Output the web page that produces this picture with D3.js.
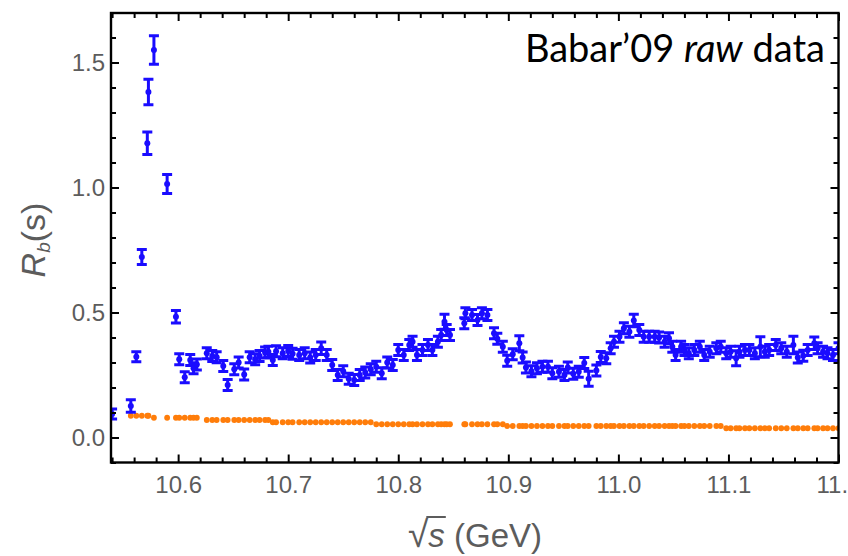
<!DOCTYPE html>
<html>
<head>
<meta charset="utf-8">
<script src="https://cdn.jsdelivr.net/npm/d3@7"></script>
<style>
  html, body { margin: 0; padding: 0; background: #fff; }
  svg { display: block; }
</style>
</head>
<body>
<svg id="chart" width="848" height="556"></svg>
<script>
// Scan energies sqrt(s) in GeV
const energies = [
  10.540,10.557,10.562,10.567,10.572,10.573,10.578,10.590,10.598,10.601,10.606,10.611,10.614,10.617,10.626,10.631,
  10.635,10.641,10.645,10.651,10.655,10.660,10.665,10.670,10.674,10.679,10.682,10.686,10.689,10.695,10.700,10.704,
  10.710,10.715,10.720,10.725,10.730,10.735,10.740,10.745,10.750,10.755,10.760,10.765,10.770,10.775,10.780,10.785,
  10.790,10.795,10.800,10.805,10.810,10.813,10.817,10.822,10.827,10.831,10.836,10.839,10.842,10.844,10.847,
  10.860,10.861,10.867,10.872,10.876,10.881,10.887,10.890,10.895,10.899,10.904,10.910,10.913,10.916,10.921,10.926,
  10.931,10.936,10.940,10.946,10.951,10.954,10.959,10.964,10.969,10.973,10.980,10.984,10.989,10.993,10.996,
  11.001,11.005,11.010,11.014,11.019,11.023,11.028,11.033,11.037,11.042,11.046,11.049,11.052,11.057,11.060,11.064,
  11.069,11.074,11.078,11.083,11.089,11.093,11.098,11.102,11.107,11.110,11.115,11.119,11.124,11.129,11.133,11.137,
  11.143,11.148,11.153,11.159,11.163,11.168,11.172,11.178,11.181,11.186,11.190,11.195,11.200
];

// Measured R_b values
const rbValues = [
  0.094,0.126,0.323,0.722,1.177,1.382,1.550,1.014,0.483,0.313,0.241,0.310,0.277,0.292,0.337,0.326,
  0.321,0.286,0.210,0.273,0.300,0.252,0.321,0.313,0.326,0.340,0.343,0.310,0.345,0.337,0.346,0.335,
  0.330,0.337,0.320,0.330,0.357,0.330,0.290,0.250,0.265,0.235,0.230,0.250,0.260,0.273,0.283,0.257,
  0.300,0.290,0.350,0.330,0.370,0.383,0.330,0.350,0.370,0.350,0.383,0.410,0.463,0.430,0.410,
  0.457,0.497,0.490,0.470,0.497,0.490,0.417,0.395,0.363,0.307,0.333,0.377,0.320,0.280,0.265,0.277,
  0.283,0.283,0.257,0.263,0.250,0.280,0.255,0.263,0.298,0.235,0.268,0.322,0.317,0.357,0.383,
  0.403,0.437,0.423,0.468,0.430,0.403,0.403,0.403,0.400,0.383,0.397,0.363,0.330,0.363,0.350,0.337,
  0.350,0.363,0.330,0.343,0.357,0.363,0.337,0.343,0.317,0.343,0.350,0.350,0.337,0.363,0.343,0.350,
  0.370,0.357,0.343,0.370,0.320,0.327,0.350,0.377,0.357,0.343,0.337,0.330,0.357
];

// Statistical uncertainties on R_b
const rbErrors = [
  0.020,0.025,0.020,0.030,0.045,0.051,0.057,0.038,0.025,0.022,0.022,0.022,0.022,0.022,0.022,0.022,
  0.022,0.022,0.022,0.022,0.022,0.022,0.022,0.022,0.022,0.022,0.022,0.022,0.022,0.022,0.022,0.022,
  0.022,0.022,0.022,0.022,0.025,0.022,0.022,0.022,0.022,0.022,0.022,0.022,0.022,0.022,0.022,0.022,
  0.022,0.022,0.022,0.022,0.022,0.022,0.022,0.022,0.022,0.022,0.022,0.022,0.030,0.022,0.022,
  0.022,0.022,0.022,0.022,0.022,0.022,0.022,0.022,0.022,0.022,0.022,0.030,0.022,0.022,0.022,0.022,
  0.022,0.022,0.022,0.022,0.022,0.022,0.022,0.022,0.022,0.030,0.022,0.022,0.022,0.022,0.022,
  0.022,0.022,0.022,0.025,0.022,0.022,0.022,0.022,0.022,0.022,0.022,0.022,0.022,0.022,0.022,0.022,
  0.022,0.022,0.022,0.022,0.022,0.022,0.022,0.022,0.030,0.022,0.022,0.022,0.022,0.040,0.022,0.022,
  0.022,0.022,0.022,0.035,0.022,0.022,0.022,0.025,0.022,0.022,0.022,0.022,0.022
];

// Lower reference curve at the same energies (null = not drawn)
const rbLower = [
  null,0.087,0.087,0.087,0.087,0.087,0.079,0.079,0.079,0.079,0.079,0.079,0.079,0.079,0.070,0.070,
  0.070,0.070,0.070,0.070,0.070,0.070,0.070,0.070,0.070,0.070,0.070,0.061,0.061,0.061,0.061,0.061,
  0.061,0.061,0.061,0.061,0.061,0.061,0.061,0.061,0.061,0.061,0.061,0.061,0.061,0.061,0.053,0.053,
  0.053,0.053,0.053,0.053,0.053,0.053,0.053,0.053,0.053,0.053,0.053,0.053,0.053,0.053,0.053,
  0.053,0.053,0.053,0.053,0.053,0.053,0.053,0.053,0.053,0.046,0.046,0.046,0.046,0.046,0.046,0.046,
  0.046,0.046,0.046,0.046,0.046,0.046,0.046,0.046,0.046,0.046,0.046,0.046,0.046,0.046,0.046,
  0.046,0.046,0.046,0.046,0.046,0.046,0.046,0.046,0.046,0.046,0.046,0.046,0.046,0.046,0.046,0.046,
  0.046,0.046,0.046,0.046,0.046,0.046,0.037,0.037,0.037,0.037,0.037,0.037,0.037,0.037,0.037,0.037,
  0.037,0.037,0.037,0.037,0.037,0.037,0.037,0.037,0.037,0.037,0.037,0.037,0.037
];

const xTickValues = [10.6, 10.7, 10.8, 10.9, 11.0, 11.1, 11.2];
const xTickLabels = ["10.6", "10.7", "10.8", "10.9", "11.0", "11.1", "11.2"];
const yTickValues = [0, 0.5, 1.0, 1.5];
const yTickLabels = ["0.0", "0.5", "1.0", "1.5"];

const titleMain = "Babar\u201909 ";
const titleItalic = "raw";
const titleTail = " data";

// ---------------------------------------------------------------
const svg = d3.select("#chart");
const W = 848, H = 556;
const box = { left: 111, right: 838.5, top: 13, bottom: 462.5 };

svg.append("rect").attr("width", W).attr("height", H).attr("fill", "#fff");

const x = d3.scaleLinear().domain([10.539, 11.2]).range([box.left, box.right]);
const y = d3.scaleLinear().domain([-0.1, 1.698]).range([box.bottom, box.top]);

const tickFont = "Liberation Sans, Arial, sans-serif";
const labelGrey = "#5c5c5c";
const blue = "#1a0cff";
const orange = "#ff7d0a";

svg.append("defs").append("clipPath").attr("id", "plotClip")
  .append("rect")
  .attr("x", box.left).attr("y", box.top)
  .attr("width", box.right - box.left).attr("height", box.bottom - box.top);

const plot = svg.append("g").attr("clip-path", "url(#plotClip)");

// lower reference points
const lowerPts = energies.map((e, i) => ({ e, v: rbLower[i] })).filter(d => d.v !== null);
plot.append("g").selectAll("circle").data(lowerPts).join("circle")
  .attr("cx", d => x(d.e)).attr("cy", d => y(d.v)).attr("r", 2.9)
  .attr("fill", orange);

// R_b points with error bars
const rbPts = energies.map((e, i) => ({ e, v: rbValues[i], err: rbErrors[i] }));
const capHalf = 5;
const bars = plot.append("g").selectAll("g").data(rbPts).join("g")
  .attr("stroke", blue).attr("stroke-width", 3).attr("fill", blue);
bars.append("line")
  .attr("x1", d => x(d.e)).attr("x2", d => x(d.e))
  .attr("y1", d => y(d.v - d.err)).attr("y2", d => y(d.v + d.err));
bars.append("line")
  .attr("x1", d => x(d.e) - capHalf).attr("x2", d => x(d.e) + capHalf)
  .attr("y1", d => y(d.v + d.err)).attr("y2", d => y(d.v + d.err));
bars.append("line")
  .attr("x1", d => x(d.e) - capHalf).attr("x2", d => x(d.e) + capHalf)
  .attr("y1", d => y(d.v - d.err)).attr("y2", d => y(d.v - d.err));
bars.append("circle")
  .attr("cx", d => x(d.e)).attr("cy", d => y(d.v)).attr("r", 3)
  .attr("stroke", "none");

// ---------------------------------------------------------------
// Frame ticks (all four sides, pointing inward)
const xMinor = x.ticks(33).filter(t => !xTickValues.some(m => Math.abs(m - t) < 1e-6));
const yMinor = y.ticks(18).filter(t => !yTickValues.some(m => Math.abs(m - t) < 1e-6));

function styleAxis(g) {
  g.attr("font-family", null).attr("font-size", null);
  g.select(".domain").remove();
  g.selectAll(".tick line").attr("stroke", "#000").attr("stroke-width", 2);
  g.selectAll(".tick text")
    .attr("fill", labelGrey)
    .attr("font-family", tickFont)
    .attr("font-size", 24);
}

const majorLen = 8, minorLen = 5;

svg.append("g").attr("transform", `translate(0,${box.bottom})`)
  .call(d3.axisBottom(x).tickValues(xTickValues).tickSize(-majorLen).tickPadding(13.5)
    .tickFormat((d, i) => xTickLabels[i]))
  .call(styleAxis);
svg.append("g").attr("transform", `translate(0,${box.bottom})`)
  .call(d3.axisBottom(x).tickValues(xMinor).tickSize(-minorLen).tickFormat(""))
  .call(styleAxis);
svg.append("g").attr("transform", `translate(0,${box.top})`)
  .call(d3.axisTop(x).tickValues(xTickValues).tickSize(-majorLen).tickFormat(""))
  .call(styleAxis);
svg.append("g").attr("transform", `translate(0,${box.top})`)
  .call(d3.axisTop(x).tickValues(xMinor).tickSize(-minorLen).tickFormat(""))
  .call(styleAxis);

svg.append("g").attr("transform", `translate(${box.left},0)`)
  .call(d3.axisLeft(y).tickValues(yTickValues).tickSize(-majorLen).tickPadding(6)
    .tickFormat((d, i) => yTickLabels[i]))
  .call(styleAxis);
svg.append("g").attr("transform", `translate(${box.left},0)`)
  .call(d3.axisLeft(y).tickValues(yMinor).tickSize(-minorLen).tickFormat(""))
  .call(styleAxis);
svg.append("g").attr("transform", `translate(${box.right},0)`)
  .call(d3.axisRight(y).tickValues(yTickValues).tickSize(-majorLen).tickFormat(""))
  .call(styleAxis);
svg.append("g").attr("transform", `translate(${box.right},0)`)
  .call(d3.axisRight(y).tickValues(yMinor).tickSize(-minorLen).tickFormat(""))
  .call(styleAxis);

// frame
svg.append("rect")
  .attr("x", box.left).attr("y", box.top)
  .attr("width", box.right - box.left).attr("height", box.bottom - box.top)
  .attr("fill", "none").attr("stroke", "#000").attr("stroke-width", 2.4);

// ---------------------------------------------------------------
// Panel title
const title = svg.append("text")
  .attr("x", 825).attr("y", 62)
  .attr("text-anchor", "end")
  .attr("font-family", "Lato, Open Sans, sans-serif")
  .attr("font-size", 38)
  .attr("fill", "#000");
title.append("tspan").text(titleMain);
title.append("tspan").attr("font-style", "italic").text(titleItalic);
title.append("tspan").text(titleTail);

// y-axis label: R_b(s)
const yLab = svg.append("text")
  .attr("transform", "translate(45,240) rotate(-90)")
  .attr("text-anchor", "middle")
  .attr("font-family", tickFont)
  .attr("font-size", 34)
  .attr("fill", labelGrey);
yLab.append("tspan").attr("font-style", "italic").text("R");
yLab.append("tspan").attr("font-style", "italic").attr("font-size", 19).attr("dy", "5").text("b");
yLab.append("tspan").attr("dy", "-5").text("(s)");

// x-axis label: sqrt(s) (GeV)
const xLab = svg.append("text")
  .attr("x", 475).attr("y", 547)
  .attr("text-anchor", "middle")
  .attr("font-family", tickFont)
  .attr("font-size", 33)
  .attr("fill", labelGrey);
xLab.append("tspan").attr("font-size", 37).text("\u221A");
xLab.append("tspan").attr("font-style", "italic").text("s");
xLab.append("tspan").text(" (GeV)");

// overbar of the radical
const rootBox = xLab.node().getExtentOfChar(0);
const sBox = xLab.node().getExtentOfChar(1);
svg.append("line")
  .attr("x1", rootBox.x + rootBox.width - 2).attr("x2", sBox.x + sBox.width + 1)
  .attr("y1", rootBox.y + 3).attr("y2", rootBox.y + 3)
  .attr("stroke", labelGrey).attr("stroke-width", 2);
</script>
</body>
</html>
